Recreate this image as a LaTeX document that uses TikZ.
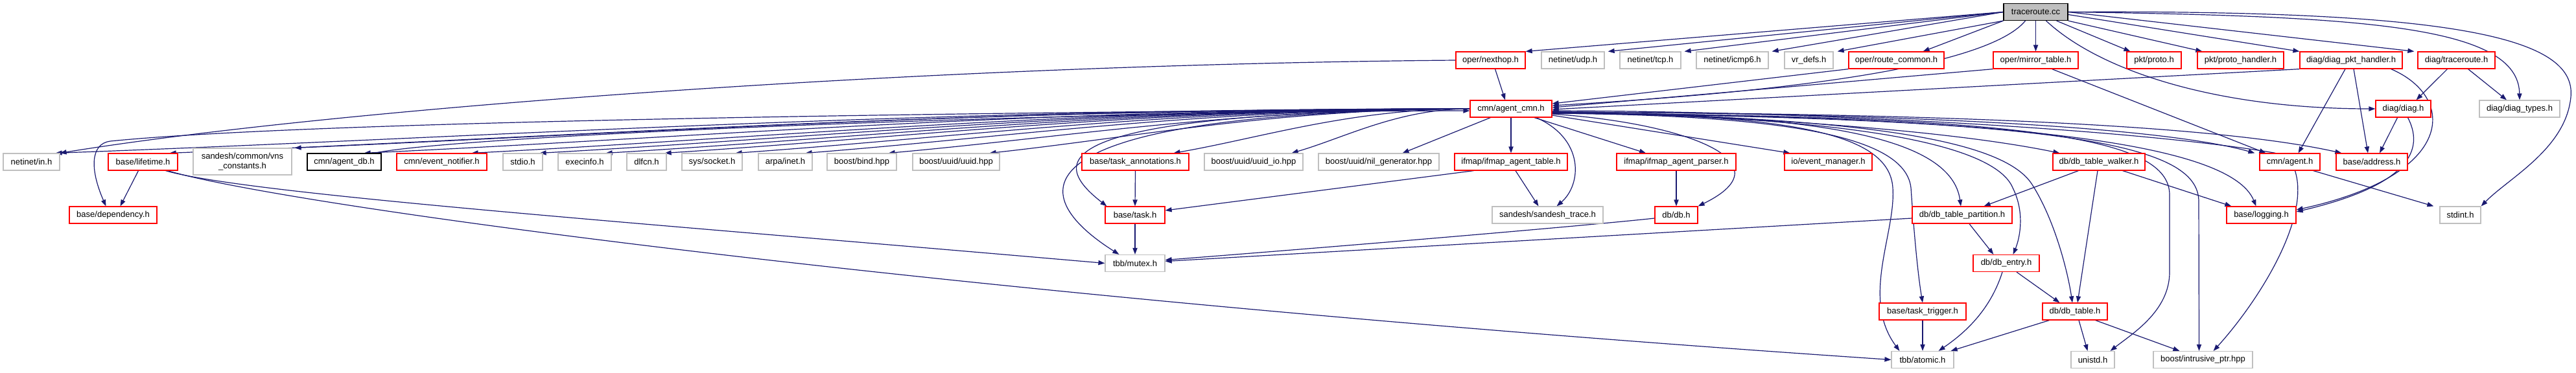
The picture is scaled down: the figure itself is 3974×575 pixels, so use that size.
\documentclass[tikz,border=0pt]{standalone}
\usepackage{fontspec}
\setmainfont{Liberation Sans}
\usetikzlibrary{calc,arrows.meta}
\definecolor{edgec}{HTML}{191970}
\definecolor{greyb}{HTML}{BFBFBF}
\pgfdeclarelayer{bg}
\pgfsetlayers{bg,main}
\tikzset{
  nb/.style={draw, line width=0.6pt, minimum height=13pt, inner sep=0pt, fill=white, font=\fontsize{6.5}{7.6}\selectfont},
  rb/.style={nb, draw=red},
  gb/.style={nb, draw=greyb},
  kb/.style={nb, draw=black},
  tb/.style={nb, draw=black, fill=greyb},
  edge/.style={draw=edgec, line width=0.6pt, -{Triangle[length=5pt,width=3.6pt]}},
}
\newcommand\cmnleft[1]{\draw[edge] let \p1=(cmn.west), \p2=#1 in (\p1) .. controls ({\x1-0.4*(\x1-\x2)},{\y1}) and ({\x2+0.3*(\x1-\x2)},{\y2+12pt}) .. (\p2);}
\begin{document}
\begin{tikzpicture}[x=0.5pt,y=-0.5pt]
\useasboundingbox (0,0) rectangle (3974,575);
% row 0
\node[tb,minimum width=49.5pt] (tcc) at (3140.5,18.5) {traceroute.cc};
% row 1
\node[rb,minimum width=53.5pt] (nexthop) at (2299.5,93) {oper/nexthop.h};
\node[gb,minimum width=48.5pt] (udp) at (2426.5,93) {netinet/udp.h};
\node[gb,minimum width=47pt] (tcp) at (2546,93) {netinet/tcp.h};
\node[gb,minimum width=55.5pt] (icmp6) at (2672.5,93) {netinet/icmp6.h};
\node[gb,minimum width=37.5pt] (vrdefs) at (2790.5,93) {vr\_defs.h};
\node[rb,minimum width=73.5pt] (routecommon) at (2925.5,93) {oper/route\_common.h};
\node[rb,minimum width=65.5pt] (mirror) at (3140.5,93) {oper/mirror\_table.h};
\node[rb,minimum width=42pt] (proto) at (3323,93) {pkt/proto.h};
\node[rb,minimum width=66.5pt] (protoh) at (3456.5,93) {pkt/proto\_handler.h};
\node[rb,minimum width=79pt] (diagpkt) at (3627,93) {diag/diag\_pkt\_handler.h};
\node[rb,minimum width=59.5pt] (diagtr) at (3789.5,93) {diag/traceroute.h};
% row 2
\node[rb,minimum width=63pt] (cmn) at (2331,168) {cmn/agent\_cmn.h};
\node[rb,minimum width=42.5pt] (diag) at (3707.5,168) {diag/diag.h};
\node[gb,minimum width=62pt] (diagtypes) at (3887,168) {diag/diag\_types.h};
% row 3
\node[gb,minimum width=43.5pt] (in) at (48.5,250) {netinet/in.h};
\node[rb,minimum width=53.5pt] (lifetime) at (220.5,250) {base/lifetime.h};
\node[gb,minimum width=76pt,minimum height=20.5pt,align=center] (vns) at (374,249.5) {sandesh/common/vns\\\_constants.h};
\node[kb,minimum width=57pt] (agentdb) at (531,250) {cmn/agent\_db.h};
\node[rb,minimum width=69.5pt] (evnotif) at (681.5,250) {cmn/event\_notifier.h};
\node[gb,minimum width=30.5pt] (stdio) at (806.5,250) {stdio.h};
\node[gb,minimum width=41pt] (execinfo) at (902,250) {execinfo.h};
\node[gb,minimum width=30.5pt] (dlfcn) at (997.5,250) {dlfcn.h};
\node[gb,minimum width=46.5pt] (socket) at (1098.5,250) {sys/socket.h};
\node[gb,minimum width=41.5pt] (inet) at (1211.5,250) {arpa/inet.h};
\node[gb,minimum width=53.5pt] (bind) at (1329.5,250) {boost/bind.hpp};
\node[gb,minimum width=67pt] (uuid) at (1475,250) {boost/uuid/uuid.hpp};
\node[rb,minimum width=82.5pt] (taskann) at (1751.5,250) {base/task\_annotations.h};
\node[gb,minimum width=76pt] (uuidio) at (1934,250) {boost/uuid/uuid\_io.hpp};
\node[gb,minimum width=93pt] (nilgen) at (2127,250) {boost/uuid/nil\_generator.hpp};
\node[rb,minimum width=87pt] (ifmaptable) at (2331,250) {ifmap/ifmap\_agent\_table.h};
\node[rb,minimum width=92pt] (ifmapparser) at (2586,250) {ifmap/ifmap\_agent\_parser.h};
\node[rb,minimum width=67.5pt] (evmgr) at (2820.5,250) {io/event\_manager.h};
\node[rb,minimum width=71pt] (walker) at (3238,250) {db/db\_table\_walker.h};
\node[rb,minimum width=46.5pt] (agent) at (3532.5,250) {cmn/agent.h};
\node[rb,minimum width=55pt] (address) at (3659,250) {base/address.h};
% row 4
\node[rb,minimum width=67.5pt] (dependency) at (174.5,332) {base/dependency.h};
\node[rb,minimum width=46pt] (task) at (1751,332) {base/task.h};
\node[gb,minimum width=85.5pt] (sandeshtrace) at (2387.5,332) {sandesh/sandesh\_trace.h};
\node[rb,minimum width=33pt] (db) at (2586,332) {db/db.h};
\node[rb,minimum width=77pt] (partition) at (3027,332) {db/db\_table\_partition.h};
\node[rb,minimum width=53.5pt] (logging) at (3488.5,332) {base/logging.h};
\node[gb,minimum width=31.5pt] (stdint) at (3795.5,332) {stdint.h};
% row 5
\node[gb,minimum width=46pt] (mutex) at (1751,406.5) {tbb/mutex.h};
\node[rb,minimum width=51pt] (dbentry) at (3095,406.5) {db/db\_entry.h};
% row 6
\node[rb,minimum width=67pt] (tasktrigger) at (2966,481) {base/task\_trigger.h};
\node[rb,minimum width=50pt] (dbtable) at (3201,481) {db/db\_table.h};
% row 7
\node[gb,minimum width=48pt] (atomic) at (2966,555.5) {tbb/atomic.h};
\node[gb,minimum width=33.5pt] (unistd) at (3228.5,555.5) {unistd.h};
\node[gb,minimum width=76.5pt] (intrusive) at (3398.5,555.5) {boost/intrusive\_ptr.hpp};

\begin{pgfonlayer}{bg}
% traceroute.cc
\draw[edge] (tcc.west) -- (nexthop.north east);
\draw[edge] (tcc.west) -- ($(udp.north east)+(5,0)$);
\draw[edge] (tcc.west) -- ($(tcp.north east)+(5,0)$);
\draw[edge] (tcc.west) -- ($(icmp6.north east)+(5,0)$);
\draw[edge] (tcc.south west) -- ($(vrdefs.north east)+(6,0)$);
\draw[edge] (tcc.south west) -- ($(routecommon.north east)+(-33,0)$);
\draw[edge] (tcc.south) -- (mirror.north);
\draw[edge] ($(tcc.south east)+(-18,0)$) -- ($(proto.north west)+(6,0)$);
\draw[edge] (tcc.south east) -- ($(protoh.north west)+(8,0)$);
\draw[edge] ($(tcc.east)+(0,4)$) -- (diagpkt.north west);
\draw[edge] (tcc.east) -- ($(diagtr.north west)+(-5,0)$);
\draw[edge] ($(tcc.south)+(16,0)$) .. controls (3240,110) and (3420,168) .. (diag.west);
\draw[edge] (tcc.east) .. controls (3650,25) and (3885,40) .. (diagtypes.north);
\draw[edge] (tcc.east) .. controls (3800,15) and (3975,60) .. (3966,150) .. controls (3958,230) and (3870,275) .. (stdint.north east);
\draw[edge] ($(tcc.south)+(-16,0)$) .. controls (3060,110) and (2700,145) .. ($(cmn.east)+(0,-5)$);
% row 1 sources
\draw[edge] ($(nexthop.south)+(7,0)$) -- ($(cmn.north)+(-9,0)$);
\draw[edge] (nexthop.west) .. controls (1400,100) and (500,170) .. (in.north east);
\draw[edge] (routecommon.south west) -- ($(cmn.east)+(0,-8)$);
\draw[edge] (mirror.south west) -- ($(cmn.east)+(0,-2)$);
\draw[edge] ($(mirror.south)+(25,0)$) -- ($(agent.north west)+(10,0)$);
\draw[edge] (diagpkt.south west) -- ($(cmn.east)+(0,1)$);
\draw[edge] ($(diagpkt.south)+(-9,0)$) -- ($(agent.north east)+(-34,0)$);
\draw[edge] ($(diagpkt.south)+(4,0)$) -- ($(address.north)+(-6,0)$);
\draw[edge] ($(diagpkt.south east)+(-18,0)$) .. controls (3790,150) and (3790,270) .. ($(logging.east)+(0,-8)$);
\draw[edge] ($(diagtr.south)+(-14,0)$) -- ($(diag.north)+(20,0)$);
\draw[edge] ($(diagtr.south)+(18,0)$) -- ($(diagtypes.north)+(-20,0)$);
% diag
\draw[edge] ($(diag.south)+(-9,0)$) -- ($(address.north)+(12,0)$);
\draw[edge] ($(diag.south)+(7,0)$) .. controls (3745,240) and (3700,290) .. ($(logging.east)+(0,-5)$);
% agent_cmn to the left
\cmnleft{($(in.north east)+(-7,0)$)}
\cmnleft{($(lifetime.north east)+(-13,0)$)}
\cmnleft{($(vns.north east)+(4,0)$)}
\cmnleft{($(agentdb.north east)+(-27,0)$)}
\cmnleft{($(evnotif.north east)+(-24,0)$)}
\cmnleft{($(stdio.north east)+(-5,0)$)}
\cmnleft{($(execinfo.north east)+(-9,0)$)}
\cmnleft{($(dlfcn.north east)+(-3,0)$)}
\cmnleft{($(socket.north east)+(-11,0)$)}
\cmnleft{($(inet.north east)+(-11,0)$)}
\cmnleft{($(bind.north east)+(-13,0)$)}
\cmnleft{($(uuid.north east)+(-16,0)$)}
\cmnleft{($(taskann.north east)+(-24,0)$)}
\cmnleft{($(uuidio.north east)+(-18,0)$)}
\draw[edge] (cmn.west) .. controls (1300,175) and (450,190) .. (170,218) .. controls (140,222) and (138,260) .. ($(dependency.north)+(-11,0)$);
\draw[edge] ($(agentdb.north east)+(-11,0)$) .. controls (700,210) and (1600,172) .. ($(cmn.west)+(0,3)$);
\draw[edge] (cmn.west) .. controls (1600,175) and (1620,250) .. ($(task.north west)+(3,0)$);
\draw[edge] (cmn.west) .. controls (1550,175) and (1580,300) .. ($(mutex.north west)+(22,0)$);
% agent_cmn downwards
\draw[edge] ($(cmn.south west)+(32,0)$) -- ($(nilgen.north east)+(-57,0)$);
\draw[edge] (cmn.south) -- (ifmaptable.north);
\draw[edge] ($(cmn.south)+(36,0)$) -- ($(ifmapparser.north)+(-47,0)$);
\draw[edge] ($(cmn.east)+(0,10)$) -- ($(evmgr.north west)+(9,0)$);
\draw[edge] ($(cmn.south)+(39,0)$) .. controls (2445,215) and (2440,285) .. ($(sandeshtrace.north)+(14,0)$);
\draw[edge] ($(cmn.east)+(0,8)$) .. controls (2600,190) and (2760,250) .. (db.north east);
% agent_cmn to the right
\draw[edge] ($(cmn.east)+(0,4)$) .. controls (2700,180) and (3000,200) .. ($(walker.north west)+(11,0)$);
\draw[edge] ($(cmn.east)+(0,5)$) .. controls (3000,175) and (3350,200) .. ($(agent.north west)+(-7,0)$);
\draw[edge] ($(cmn.east)+(0,5)$) .. controls (3100,175) and (3450,200) .. ($(address.north west)+(9,0)$);
\draw[edge] ($(cmn.east)+(0,6)$) .. controls (3100,180) and (3440,220) .. ($(logging.north)+(-8,0)$);
\draw[edge] ($(cmn.east)+(0,6)$) .. controls (2800,175) and (3010,210) .. ($(partition.north)+(-2,0)$);
\draw[edge] ($(cmn.east)+(0,6)$) .. controls (2900,180) and (3080,230) .. (3105,290) .. controls (3125,330) and (3115,370) .. ($(dbentry.north east)+(-41,0)$);
\draw[edge] ($(cmn.east)+(0,6)$) .. controls (2950,180) and (3100,230) .. (3135,285) .. controls (3170,340) and (3190,420) .. ($(dbtable.north)+(-4,0)$);
\draw[edge] ($(cmn.east)+(0,7)$) .. controls (2800,178) and (2940,220) .. (2948,290) .. controls (2952,350) and (2958,420) .. (tasktrigger.north);
\draw[edge] ($(cmn.east)+(0,7)$) .. controls (2780,175) and (2915,210) .. (2920,290) .. controls (2925,360) and (2870,460) .. ($(atomic.north west)+(13,0)$);
\draw[edge] ($(cmn.east)+(0,7)$) .. controls (3150,178) and (3345,215) .. (3347,300) -- (3347,420) .. controls (3347,480) and (3290,515) .. ($(unistd.north east)+(-7,0)$);
\draw[edge] ($(cmn.east)+(0,7)$) .. controls (3200,182) and (3390,225) .. (3392,310) -- ($(intrusive.north)+(-6,0)$);
% lifetime
\draw[edge] ($(lifetime.south)+(-7,0)$) -- ($(dependency.north)+(11,0)$);
\draw[edge] ($(lifetime.south east)+(-19,0)$) .. controls (380,300) and (1000,345) .. (mutex.west);
\draw[edge] ($(lifetime.south east)+(-16,0)$) .. controls (450,320) and (1500,460) .. (atomic.west);
% ifmap / task
\draw[edge] ($(ifmaptable.south)+(7,0)$) -- ($(sandeshtrace.north)+(-14,0)$);
\draw[edge] ($(ifmaptable.south west)+(30,0)$) -- ($(task.east)+(0,-7)$);
\draw[edge] (ifmapparser.south) -- (db.north);
\draw[edge] ($(db.west)+(0,5)$) .. controls (2480,345) and (2200,370) .. ($(mutex.east)+(0,-5)$);
\draw[edge] ($(partition.west)+(0,5)$) -- ($(mutex.east)+(0,-3)$);
\draw[edge] (taskann.south) -- (task.north);
\draw[edge] (task.south) -- (mutex.north);
% db
\draw[edge] ($(walker.south west)+(40,0)$) -- ($(partition.north east)+(-44,0)$);
\draw[edge] ($(walker.south)+(-2,0)$) -- ($(dbtable.north)+(4,0)$);
\draw[edge] ($(walker.south east)+(-35,0)$) -- ($(logging.north west)+(8,0)$);
\draw[edge] ($(partition.south)+(11,0)$) -- ($(dbentry.north west)+(32,0)$);
\draw[edge] ($(dbentry.south)+(16,0)$) -- ($(dbtable.north west)+(27,0)$);
\draw[edge] ($(dbentry.south)+(-6,0)$) .. controls (3070,480) and (3030,515) .. ($(atomic.north east)+(-24,0)$);
\draw[edge] ($(dbtable.south west)+(11,0)$) -- ($(atomic.north east)+(-5,0)$);
\draw[edge] ($(dbtable.south)+(6,0)$) -- ($(unistd.north)+(-8,0)$);
\draw[edge] ($(dbtable.south east)+(-19,0)$) -- ($(intrusive.north west)+(41,0)$);
\draw[edge] (tasktrigger.south) -- (atomic.north);
% agent
\draw[edge] ($(agent.north)+(-22,0)$) .. controls (3300,200) and (2800,172) .. ($(cmn.east)+(0,3)$);
\draw[edge] ($(agent.south east)+(-11,0)$) -- ($(stdint.north west)+(-9,0)$);
\draw[edge] ($(agent.south)+(8,0)$) .. controls (3565,340) and (3480,470) .. ($(intrusive.north east)+(-61,0)$);
\end{pgfonlayer}
\end{tikzpicture}
\end{document}
